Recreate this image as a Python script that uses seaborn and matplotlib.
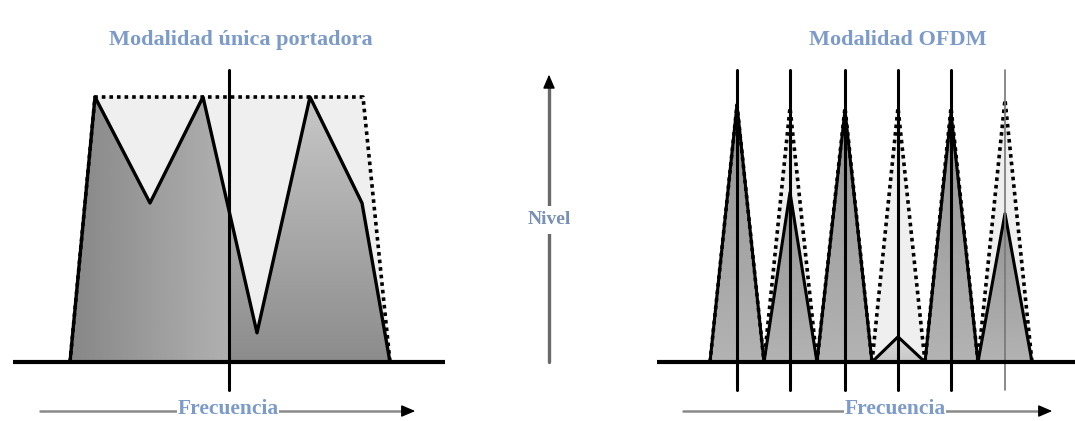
import numpy as np
import matplotlib.pyplot as plt
import seaborn as sns
from matplotlib.patches import Polygon

# --- data: frequency positions (arbitrary units) and normalised levels ---
single_freq = [70, 95, 150, 203, 257, 310, 362, 390]
single_level = [0.0, 1.0, 0.60, 1.0, 0.11, 1.0, 0.60, 0.0]
mask_freq = [70, 95, 363, 390]
mask_level = [0.0, 1.0, 1.0, 0.0]
split_freq = 229  # centre line of the single carrier band

carrier_freq = [737, 790, 845, 898, 951, 1005]
carrier_edges = [710, 764, 817, 872, 925, 978, 1032]
carrier_level = [0.97, 0.64, 0.95, 0.095, 0.94, 0.56]
carrier_mask = [0.97, 0.96, 0.96, 0.96, 0.96, 0.99]

titles = ['Modalidad única portadora', 'Modalidad OFDM']
title_x = [241, 898]
freq_label = 'Frecuencia'
level_label = 'Nivel'

sns.set_theme(style='white')
plt.rcParams['font.family'] = ['Liberation Serif', 'DejaVu Serif']

fig = plt.figure(figsize=(10.75, 4.21), dpi=100)
ax = fig.add_axes([0, 0, 1, 1])
ax.set_xlim(0, 1075)
ax.set_ylim(-0.2226, 1.366)
ax.axis('off')

blue = '#7d9bc8'


def grad_fill(poly_x, poly_y, extent, img, z=1):
    patch = Polygon(np.column_stack([poly_x, poly_y]), closed=True,
                    facecolor='none', edgecolor='none')
    ax.add_patch(patch)
    im = ax.imshow(img, extent=extent, cmap='gray', vmin=0, vmax=1,
                   aspect='auto', origin='lower', interpolation='bilinear', zorder=z)
    im.set_clip_path(patch)


# ---------- single carrier ----------
ax.fill(mask_freq, mask_level, color='#efefef', zorder=0.5)
xs = np.linspace(0, 1, 64)
left_img = np.tile(0.53 + 0.16 * xs, (64, 1))
right_img = np.tile((0.55 + 0.23 * xs)[:, None], (1, 64))
sx, sy = np.array(single_freq), np.array(single_level)
cut = np.interp(split_freq, sx[3:5], sy[3:5])
lx = list(sx[sx < split_freq]) + [split_freq, split_freq]
ly = list(sy[sx < split_freq]) + [cut, 0]
rx = [split_freq, split_freq] + list(sx[sx > split_freq])
ry = [0, cut] + list(sy[sx > split_freq])
grad_fill(lx, ly, [single_freq[0], split_freq, 0, 1], left_img)
grad_fill(rx, ry, [split_freq, single_freq[-1], 0, 1], right_img)

sns.lineplot(x=mask_freq, y=mask_level, sort=False, estimator=None, ax=ax,
             color='black', lw=2.6, linestyle=(0, (1, 1.1)), zorder=3)
sns.lineplot(x=single_freq, y=single_level, sort=False, estimator=None, ax=ax,
             color='black', lw=2.4, zorder=4)
ax.plot([13, 445], [0, 0], color='black', lw=3, zorder=5, solid_capstyle='butt')
ax.plot([split_freq, split_freq], [-0.106, 1.102], color='black', lw=2.2, zorder=5)

# ---------- OFDM ----------
tri_img = np.tile((0.70 - 0.12 * xs)[:, None], (1, 64))
small_img = np.tile((0.78 + 0.08 * xs)[:, None], (1, 64))
for i, f in enumerate(carrier_freq):
    l, r = carrier_edges[i], carrier_edges[i + 1]
    ax.fill([l, f, r], [0, carrier_mask[i], 0], color='#efefef', zorder=0.5)
    img = small_img if carrier_level[i] < 0.2 else tri_img
    grad_fill([l, f, r], [0, carrier_level[i], 0], [l, r, 0, carrier_level[i]], img)
    sns.lineplot(x=[l, f, r], y=[0, carrier_mask[i], 0], sort=False, estimator=None,
                 ax=ax, color='black', lw=2.6, linestyle=(0, (1, 1.1)), zorder=3)
    sns.lineplot(x=[l, f, r], y=[0, carrier_level[i], 0], sort=False, estimator=None,
                 ax=ax, color='black', lw=2.2, zorder=4)
    last = i == len(carrier_freq) - 1
    ax.plot([f, f], [-0.106, 1.102], color='#777777' if last else 'black',
            lw=1.2 if last else 2.2, zorder=5)
ax.plot([657, 1075], [0, 0], color='black', lw=3, zorder=5, solid_capstyle='butt')

# ---------- labels and arrows ----------
for t, x in zip(titles, title_x):
    ax.text(x, 1.215, t, ha='center', va='center', fontsize=16,
            fontweight='bold', color=blue)

for x0, x1, xc in [(40, 418, 228), (683, 1055, 895)]:
    ax.plot([x0, x1 - 8], [-0.185, -0.185], color='#8a8a8a', lw=1.8, zorder=5)
    ax.annotate('', xy=(x1, -0.185), xytext=(x1 - 12, -0.185),
                arrowprops=dict(arrowstyle='-|>,head_length=0.7,head_width=0.3',
                                color='black', lw=1), zorder=6)
    ax.text(xc, -0.178, freq_label, ha='center', va='center', fontsize=15.5,
            fontweight='bold', color=blue, zorder=7,
            bbox=dict(facecolor='white', edgecolor='none', pad=0.5))

ax.plot([549, 549], [0, 1.06], color='#6a6a6a', lw=2.4, zorder=5)
ax.annotate('', xy=(549, 1.095), xytext=(549, 1.04),
            arrowprops=dict(arrowstyle='-|>,head_length=0.7,head_width=0.3',
                            color='black', lw=1), zorder=6)
ax.text(549, 0.536, level_label, ha='center', va='center', fontsize=14,
        fontweight='bold', color='#7890b4', zorder=7,
        bbox=dict(facecolor='white', edgecolor='none', pad=4))

fig.savefig('out.png', dpi=100)
